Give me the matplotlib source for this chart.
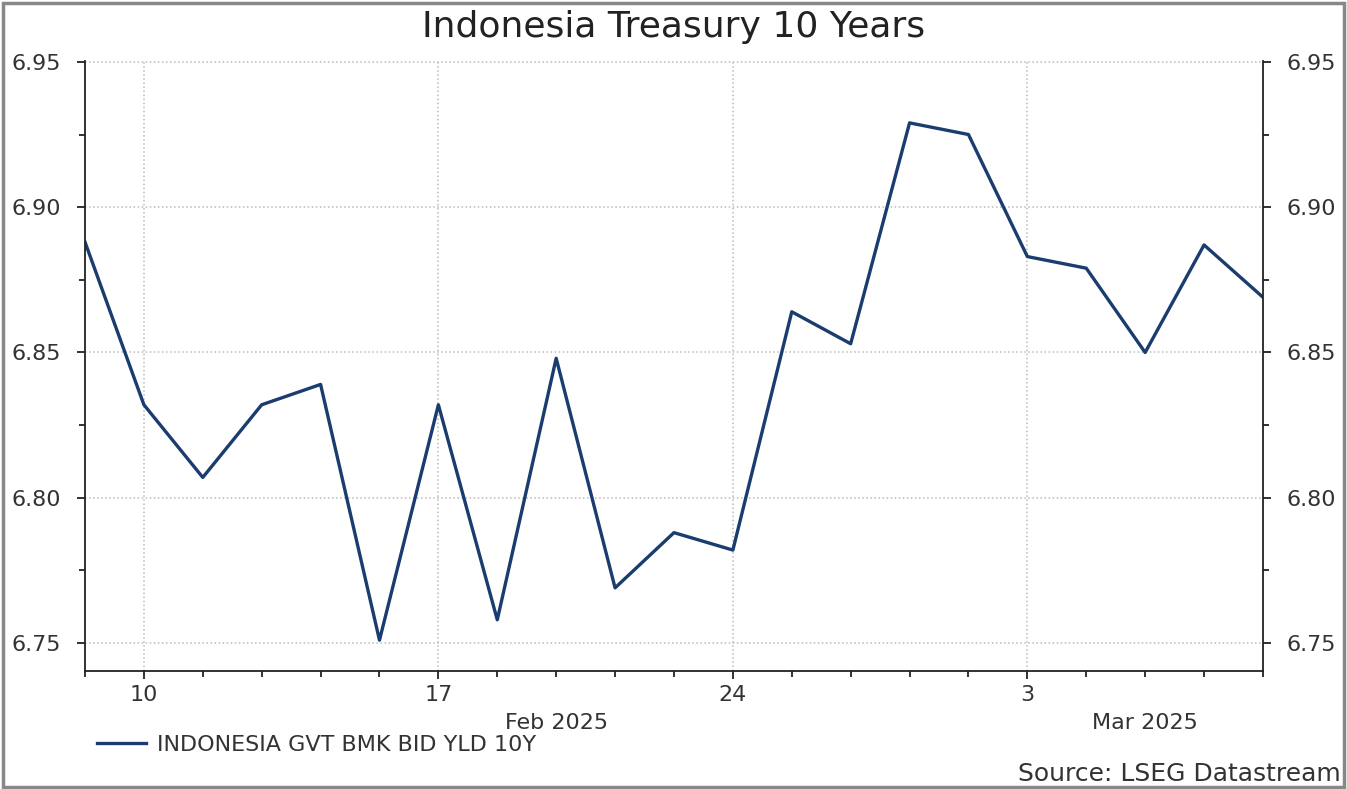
import numpy as np
import matplotlib.pyplot as plt
from matplotlib.patches import Rectangle
from matplotlib.ticker import MultipleLocator

plt.rcParams['font.family'] = ['DejaVu Sans']

# business days 7 Feb 2025 .. 7 Mar 2025
dates = ['2025-02-07', '2025-02-10', '2025-02-11', '2025-02-12', '2025-02-13',
         '2025-02-14', '2025-02-17', '2025-02-18', '2025-02-19', '2025-02-20',
         '2025-02-21', '2025-02-24', '2025-02-25', '2025-02-26', '2025-02-27',
         '2025-02-28', '2025-03-03', '2025-03-04', '2025-03-05', '2025-03-06',
         '2025-03-07']
yields = [6.888, 6.832, 6.807, 6.832, 6.839, 6.751, 6.832, 6.758, 6.848, 6.769,
          6.788, 6.782, 6.864, 6.853, 6.929, 6.925, 6.883, 6.879, 6.850, 6.887,
          6.869]
day_labels = ['10', '17', '24', '3']
month_labels = ['Feb 2025', 'Mar 2025']

idx = np.arange(len(dates))
monday_idx = [dates.index(d) for d in ['2025-02-10', '2025-02-17', '2025-02-24', '2025-03-03']]
month_pos = [dates.index('2025-02-19'), dates.index('2025-03-05')]

line_col = '#1a3c6e'
text_col = '#333333'

fig = plt.figure(figsize=(13.47, 7.89), dpi=100)
fig.patches.append(Rectangle((0.002, 0.002), 0.996, 0.994, transform=fig.transFigure,
                             fill=False, edgecolor='#888888', linewidth=2.5))
ax = fig.add_axes([0.0631, 0.1496, 0.8745, 0.7731])

ax.plot(idx, yields, color=line_col, linewidth=2.4, label='INDONESIA GVT BMK BID YLD 10Y')

ax.set_xlim(0, len(dates) - 1)
ax.set_ylim(6.7404, 6.9503)

ax.yaxis.set_major_locator(MultipleLocator(0.05))
ax.yaxis.set_minor_locator(MultipleLocator(0.025))
ax.yaxis.set_major_formatter(plt.FuncFormatter(lambda v, p: '%.2f' % v))
ax.set_xticks(monday_idx)
ax.set_xticklabels(day_labels)
ax.set_xticks(idx, minor=True)

ax.tick_params(axis='both', which='major', direction='out', length=6, width=1.3,
               labelsize=16, colors='#222222', labelcolor=text_col)
ax.tick_params(axis='both', which='minor', direction='out', length=4, width=1.3,
               colors='#222222')
ax.tick_params(axis='y', which='both', left=True, right=True, labelleft=True,
               labelright=True)
ax.tick_params(axis='y', which='major', pad=11)
ax.tick_params(axis='x', which='major', pad=4)

ax.grid(True, which='major', color='#bbbbbb', linestyle=':', linewidth=1.1)
for s in ['left', 'right', 'bottom']:
    ax.spines[s].set_linewidth(1.3)
    ax.spines[s].set_color('#222222')
ax.spines['top'].set_visible(False)

for pos, lab in zip(month_pos, month_labels):
    ax.text(pos, -0.085, lab, transform=ax.get_xaxis_transform(), ha='center',
            va='center', fontsize=16, color=text_col)

fig.text(0.5, 0.966, 'Indonesia Treasury 10 Years', ha='center', va='center',
         fontsize=26, color='#222222')

leg = ax.legend(loc='center left', bbox_to_anchor=(0.072, 0.056),
                bbox_transform=fig.transFigure, frameon=False,
                fontsize=16, handlelength=2.2, handletextpad=0.5, borderaxespad=0,
                borderpad=0)
for t in leg.get_texts():
    t.set_color(text_col)

fig.text(0.995, 0.019, 'Source: LSEG Datastream', ha='right', va='center',
         fontsize=18, color=text_col)

fig.savefig('out.png', dpi=100)
